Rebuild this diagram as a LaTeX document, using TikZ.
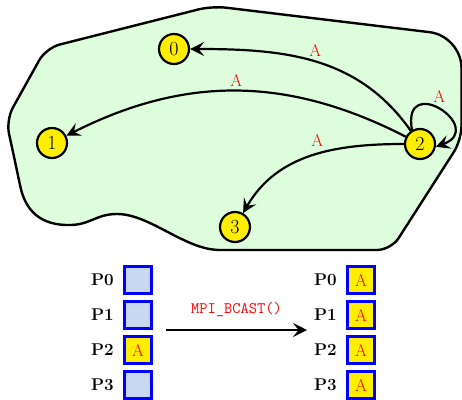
\documentclass[tikz,border=0pt]{standalone}
\usepackage{xcolor}
\usepackage{tikz}
\usetikzlibrary{
  arrows.meta,
  positioning
}
\definecolor{groupgreen}{RGB}{221,253,221}
\definecolor{bufblue}{RGB}{200,216,240}
\definecolor{rankyellow}{RGB}{255,238,0}

\begin{document}
\begin{tikzpicture}[x=1pt, y=1pt,
  rank/.style={circle, draw, fill=rankyellow, line width=2.2pt, minimum size=30pt,
               inner sep=0pt, font=\fontsize{20}{20}\selectfont},
  buf/.style={draw=blue, fill=bufblue, line width=2.4pt, minimum size=27pt,
              inner sep=0pt, font=\fontsize{17}{17}\selectfont, text=red},
  full/.style={buf, fill=rankyellow},
  proc/.style={font=\fontsize{17}{17}\selectfont\bfseries},
  msg/.style={font=\fontsize{17}{17}\selectfont, text=red},
  arr/.style={-{Stealth[length=14pt, width=14pt, inset=5.5pt]}, line width=2.2pt},
  node distance=6pt
]
  \useasboundingbox (0,0) rectangle (462,-399);

  % Communicator
  \draw[fill=groupgreen, line width=2.4pt]
    (300,-250) -- (220,-250)
    .. controls (185,-250) and (150,-214) .. (117,-214)
    .. controls (95,-214) and (90,-226) .. (66,-225)
    .. controls (35,-224) and (24,-205) .. (20,-185) -- (13,-152)
    [rounded corners=14pt] -- (6,-120) -- (46,-48) -- (212,-6)
    [rounded corners=32pt] -- (461.5,-36)
    [rounded corners=14pt] -- (461.5,-140) -- (391,-250) -- cycle;

  % Ranks
  \node[rank] (n0) at (174,-49) {0};
  \node[rank] (n1) at (52,-143) {1};
  \node[rank] (n2) at (420,-144) {2};
  \node[rank] (n3) at (235,-227) {3};

  % Broadcast
  \draw[arr] (n2) to[out=125, in=0] node[msg, pos=0.5, above=1pt] {A} (n0);
  \draw[arr] (n2) to[bend right=27] node[msg, above] {A} (n1);
  \draw[arr] (n2) to[out=180, in=60] node[msg, pos=0.4, above left=0pt] {A} (n3);
  \draw[arr] (n2.120) .. controls +(100:60) and +(20:55) .. node[msg, above=2pt] {A} (n2.-10);

  % Buffers
  \foreach \i in {0,...,3} {
    \pgfmathsetmacro{\y}{-280-35*\i}
    \node[buf] (l\i) at (138,\y) {};
    \node[proc, left=of l\i] (pl\i) {P\i};
    \node[full] (r\i) at (361,\y) {A};
    \node[proc, left=of r\i] (pr\i) {P\i};
  }
  \node[full] at (l2) {A};

  \coordinate (bcastfrom) at (166,-330);
  \coordinate (bcastto) at (307,-330);
  \draw[arr] (bcastfrom) -- node[above=9pt, font=\fontsize{16}{16}\selectfont\ttfamily, text=red] {MPI\_BCAST()} (bcastto);
\end{tikzpicture}
\end{document}
